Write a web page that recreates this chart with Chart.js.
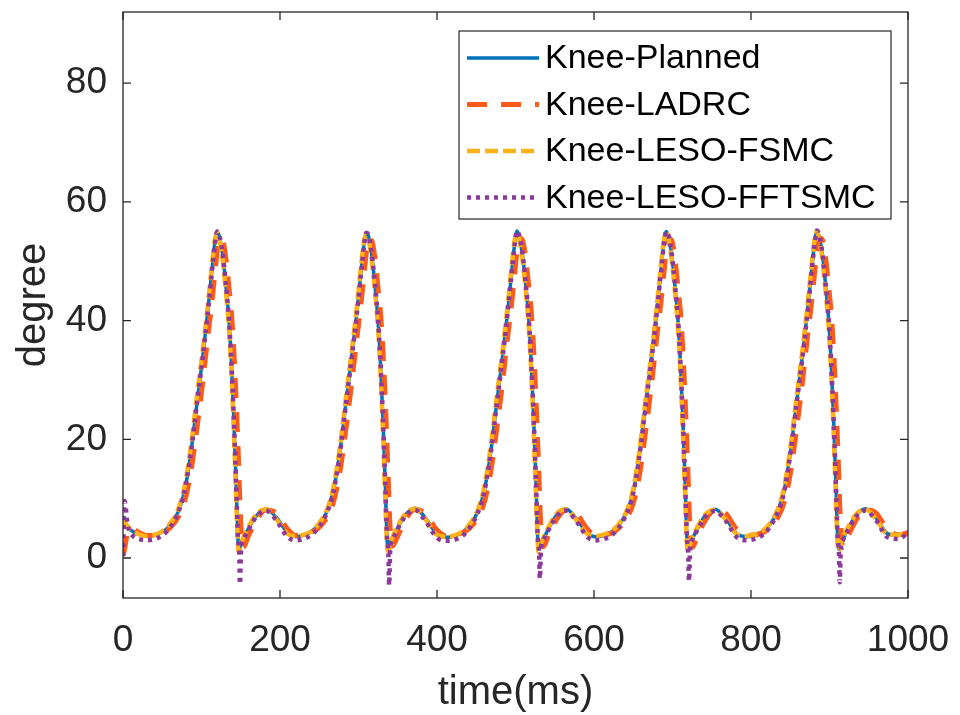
<!DOCTYPE html>
<html><head><meta charset="utf-8">
<script src="https://cdn.jsdelivr.net/npm/chart.js@4.4.0/dist/chart.umd.min.js"></script>
<style>html,body{margin:0;padding:0;background:#fff}#wrap{width:960px;height:715px}</style>
</head><body><div id="wrap"><canvas id="c" width="960" height="715"></canvas></div>
<script>
const xTicks = [0, 200, 400, 600, 800, 1000];
const yTicks = [0, 20, 40, 60, 80];
const seriesNames = ['Knee-Planned', 'Knee-LADRC', 'Knee-LESO-FSMC', 'Knee-LESO-FFTSMC'];

const times = [
  0, 2, 6, 12, 20,
  30, 50, 60, 70, 78, 86, 94, 102, 108, 113, 117, 120, 123, 127, 131, 135, 138, 141, 144, 146.5, 148, 149, 150.5, 153, 160, 170, 182, 195, 210,
  220, 240, 250, 260, 268, 276, 284, 292, 298, 303, 307, 310, 313, 317, 321, 325, 328, 331, 334, 336.5, 338, 339, 340.5, 343, 350, 360, 372, 385, 400,
  412, 432, 442, 452, 460, 468, 476, 484, 490, 495, 499, 502, 505, 509, 513, 517, 520, 523, 526, 528.5, 530, 531, 532.5, 535, 542, 552, 564, 577, 592,
  602, 622, 632, 642, 650, 658, 666, 674, 680, 685, 689, 692, 695, 699, 703, 707, 710, 713, 716, 718.5, 720, 721, 722.5, 725, 732, 742, 754, 767, 782,
  794, 814, 824, 834, 842, 850, 858, 866, 872, 877, 881, 884, 887, 891, 895, 899, 902, 905, 908, 910.5, 912, 913, 914.5, 917, 924, 934, 946, 959, 974,
  988, 1000
];

const planned = [
  6.3, 6.0, 5.2, 4.5, 4.0,
  3.7, 4.4, 5.5, 7.7, 11.0, 17.3, 25.8, 34.4, 41.6, 48.1, 53.1, 55.0, 54.0, 51.1, 46.0, 40.1, 33.2, 24.1, 13.0, 3.1, 1.4, 1.8, 2.3, 3.2, 5.0, 7.1, 8.2, 6.9, 4.2,
  3.6, 4.5, 5.7, 7.9, 11.3, 17.6, 26.1, 34.6, 41.4, 47.9, 52.8, 54.8, 54.1, 50.9, 45.9, 39.8, 32.8, 23.8, 12.8, 2.9, 1.6, 1.9, 2.4, 3.1, 5.1, 7.3, 8.4, 6.8, 4.0,
  3.5, 4.3, 5.6, 7.8, 11.2, 17.4, 26.0, 34.5, 41.5, 48.0, 53.0, 55.1, 54.0, 51.0, 46.1, 40.0, 33.0, 24.0, 13.1, 3.0, 1.5, 1.8, 2.3, 3.0, 4.9, 7.2, 8.3, 6.7, 4.1,
  3.6, 4.4, 5.6, 7.8, 11.1, 17.5, 26.0, 34.4, 41.5, 48.0, 53.0, 55.0, 54.1, 51.0, 46.0, 40.0, 33.1, 24.0, 13.0, 3.0, 1.5, 1.8, 2.3, 3.1, 5.0, 7.2, 8.2, 6.8, 4.1,
  3.6, 4.4, 5.6, 7.9, 11.2, 17.6, 26.1, 34.5, 41.6, 48.1, 53.1, 55.2, 54.1, 51.1, 46.0, 40.0, 33.0, 24.0, 13.0, 3.0, 1.5, 1.8, 2.3, 3.1, 5.0, 7.2, 8.3, 6.8, 4.1,
  3.8, 4.4
];

const ladrc = [
  0.4, 1.5, 4.4, 5.0, 4.3,
  3.8, 4.2, 5.1, 6.8, 9.3, 14.2, 21.7, 30.2, 37.3, 42.8, 48.0, 51.7, 53.8, 53.5, 50.5, 45.5, 41.5, 35.3, 27.0, 18.5, 13.0, 9.0, 4.5, 1.8, 3.8, 6.4, 8.1, 7.6, 4.8,
  3.8, 4.3, 5.2, 6.9, 9.4, 14.3, 21.8, 30.3, 37.2, 42.7, 47.8, 51.5, 53.7, 53.4, 50.4, 45.3, 41.3, 35.1, 26.8, 18.3, 12.8, 8.8, 4.6, 2.0, 3.7, 6.5, 8.2, 7.5, 4.7,
  3.7, 4.2, 5.1, 6.8, 9.3, 14.2, 21.7, 30.2, 37.3, 42.8, 48.0, 51.8, 53.9, 53.5, 50.5, 45.5, 41.5, 35.3, 27.0, 18.5, 13.0, 9.0, 4.5, 1.9, 3.8, 6.4, 8.1, 7.6, 4.8,
  3.8, 4.2, 5.1, 6.8, 9.2, 14.1, 21.6, 30.1, 37.3, 42.8, 48.0, 51.7, 53.8, 53.5, 50.5, 45.5, 41.5, 35.3, 27.0, 18.5, 13.0, 9.0, 4.5, 1.8, 3.8, 6.4, 8.1, 7.6, 4.8,
  3.8, 4.2, 5.1, 6.8, 9.3, 14.2, 21.7, 30.2, 37.4, 42.9, 48.1, 51.8, 53.9, 53.6, 50.6, 45.5, 41.5, 35.3, 27.0, 18.5, 13.0, 9.0, 4.5, 1.8, 3.8, 6.4, 8.1, 7.6, 4.8,
  3.9, 4.2
];

const fsmc = [
  6.5, 6.1, 5.3, 4.6, 4.0,
  3.7, 4.5, 5.8, 8.1, 11.8, 18.3, 27.0, 35.5, 42.5, 49.0, 53.6, 54.8, 53.5, 50.2, 45.0, 38.8, 31.5, 22.0, 10.5, 2.0, 1.0, 1.6, 2.4, 3.4, 5.3, 7.4, 8.2, 6.6, 4.0,
  3.7, 4.5, 5.9, 8.2, 11.9, 18.4, 27.1, 35.6, 42.4, 48.9, 53.4, 54.6, 53.6, 50.1, 44.9, 38.6, 31.3, 21.8, 10.3, 1.9, 1.1, 1.7, 2.5, 3.4, 5.4, 7.5, 8.3, 6.6, 3.9,
  3.6, 4.4, 5.8, 8.1, 11.8, 18.3, 27.0, 35.5, 42.5, 49.0, 53.6, 54.9, 53.5, 50.2, 45.1, 38.8, 31.5, 22.0, 10.6, 2.0, 1.0, 1.6, 2.4, 3.3, 5.2, 7.4, 8.2, 6.5, 4.0,
  3.7, 4.5, 5.8, 8.1, 11.7, 18.3, 27.0, 35.4, 42.5, 49.0, 53.6, 54.8, 53.6, 50.2, 45.0, 38.8, 31.6, 22.0, 10.5, 2.0, 1.0, 1.6, 2.4, 3.4, 5.3, 7.4, 8.1, 6.6, 4.0,
  3.7, 4.5, 5.8, 8.2, 11.8, 18.4, 27.1, 35.5, 42.6, 49.1, 53.7, 55.0, 53.6, 50.3, 45.0, 38.8, 31.5, 22.0, 10.5, 2.0, 1.0, 1.6, 2.4, 3.4, 5.3, 7.4, 8.2, 6.6, 4.0,
  3.9, 4.5
];

const fftsmc = [
  0.3, 9.6, 5.5, 3.8, 3.2,
  3.0, 3.8, 5.2, 7.6, 11.0, 17.3, 25.8, 34.3, 41.3, 47.8, 52.8, 55.0, 54.2, 51.2, 46.2, 40.2, 33.2, 24.2, 13.2, 3.2, 1.2, -4.4, 1.6, 3.0, 4.8, 7.0, 8.0, 6.4, 3.5,
  3.0, 3.9, 5.3, 7.7, 11.1, 17.4, 25.9, 34.4, 41.2, 47.7, 52.6, 54.8, 54.3, 51.1, 46.1, 40.0, 33.0, 24.0, 13.0, 3.1, 1.3, -4.6, 1.7, 3.0, 4.9, 7.1, 8.1, 6.3, 3.4,
  2.9, 3.7, 5.2, 7.6, 11.0, 17.2, 25.8, 34.3, 41.3, 47.8, 52.8, 55.1, 54.2, 51.2, 46.3, 40.2, 33.2, 24.2, 13.3, 3.2, 1.3, -3.5, 1.7, 2.9, 4.7, 7.0, 8.0, 6.3, 3.5,
  3.0, 3.8, 5.2, 7.6, 10.9, 17.3, 25.8, 34.2, 41.3, 47.8, 52.8, 55.0, 54.3, 51.2, 46.2, 40.2, 33.3, 24.2, 13.2, 3.2, 1.2, -3.9, 1.6, 3.0, 4.8, 7.0, 7.9, 6.4, 3.5,
  3.0, 3.8, 5.2, 7.7, 11.0, 17.4, 25.9, 34.3, 41.4, 47.9, 52.9, 55.2, 54.3, 51.3, 46.2, 40.2, 33.2, 24.2, 13.2, 3.2, 1.2, -4.1, 1.6, 3.0, 4.8, 7.0, 8.0, 6.4, 3.5,
  3.2, 4.3
];

const AXC = '#262626';
const FONT = 'Liberation Sans';

function pts(vals) { return times.map((t, i) => ({ x: t, y: vals[i] })); }

const frame = {
  id: 'frame',
  afterDraw(chart) {
    const { ctx, chartArea: a, scales } = chart;
    ctx.save();
    ctx.strokeStyle = AXC;
    ctx.lineWidth = 1.3;
    ctx.setLineDash([]);
    ctx.strokeRect(a.left, a.top, a.right - a.left, a.bottom - a.top);
    const tl = 8;
    ctx.beginPath();
    xTicks.forEach(v => {
      const x = scales.x.getPixelForValue(v);
      ctx.moveTo(x, a.bottom); ctx.lineTo(x, a.bottom - tl);
      ctx.moveTo(x, a.top); ctx.lineTo(x, a.top + tl);
    });
    yTicks.forEach(v => {
      const y = scales.y.getPixelForValue(v);
      ctx.moveTo(a.left, y); ctx.lineTo(a.left + tl, y);
      ctx.moveTo(a.right, y); ctx.lineTo(a.right - tl, y);
    });
    ctx.stroke();

    // legend box
    const bx = 459, by = 31, bw = 432, bh = 188;
    ctx.fillStyle = '#fff';
    ctx.fillRect(bx, by, bw, bh);
    ctx.strokeStyle = AXC;
    ctx.lineWidth = 1.2;
    ctx.strokeRect(bx, by, bw, bh);
    chart.data.datasets.forEach((ds, i) => {
      const y = 58 + i * 46.5;
      ctx.beginPath();
      ctx.setLineDash(ds.borderDash || []);
      ctx.lineWidth = ds.borderWidth;
      ctx.strokeStyle = ds.borderColor;
      ctx.lineCap = 'butt';
      ctx.moveTo(467, y); ctx.lineTo(539, y);
      ctx.stroke();
      ctx.setLineDash([]);
      ctx.fillStyle = '#000';
      ctx.font = '34px "' + FONT + '"';
      ctx.textBaseline = 'middle';
      ctx.textAlign = 'left';
      ctx.fillText(ds.label, 545, y + 1);
    });
    ctx.restore();
  }
};

new Chart(document.getElementById('c'), {
  type: 'line',
  data: {
    datasets: [
      { label: seriesNames[0], data: pts(planned), borderColor: '#0072BD', borderWidth: 3.5, order: 3 },
      { label: seriesNames[1], data: pts(ladrc), borderColor: '#FF5A1A', borderWidth: 5, borderDash: [20, 14], order: 2 },
      { label: seriesNames[2], data: pts(fsmc), borderColor: '#FDB218', borderWidth: 4.5, borderDash: [13, 5], order: 1 },
      { label: seriesNames[3], data: pts(fftsmc), borderColor: '#8B3A9B', borderWidth: 4.5, borderDash: [4, 5], order: 0 }
    ]
  },
  options: {
    responsive: false,
    animation: false,
    devicePixelRatio: 1,
    layout: { padding: { left: 0, right: 52, top: 12, bottom: 0 } },
    elements: { point: { radius: 0, hoverRadius: 0 }, line: { cubicInterpolationMode: 'monotone', fill: false } },
    plugins: { legend: { display: false }, tooltip: { enabled: false } },
    scales: {
      x: {
        type: 'linear', min: 0, max: 1000,
        afterBuildTicks: s => { s.ticks = xTicks.map(v => ({ value: v })); },
        afterFit: s => { s.height = 117; s.paddingLeft = 0; s.paddingRight = 0; },
        grid: { display: false, drawTicks: false },
        border: { display: false },
        ticks: { font: { family: FONT, size: 37 }, color: AXC, padding: 21, maxRotation: 0, autoSkip: false, callback: v => String(v) },
        title: { display: true, text: 'time(ms)', color: AXC, font: { family: FONT, size: 40, lineHeight: 1 }, padding: { top: 0, bottom: 2 } }
      },
      y: {
        type: 'linear', min: -6.74, max: 92,
        afterBuildTicks: s => { s.ticks = yTicks.map(v => ({ value: v })); },
        afterFit: s => { s.width = 123; s.paddingTop = 0; s.paddingBottom = 0; },
        grid: { display: false, drawTicks: false },
        border: { display: false },
        ticks: { font: { family: FONT, size: 37 }, color: AXC, padding: 16, autoSkip: false, callback: v => String(v) },
        title: { display: true, text: 'degree', color: AXC, font: { family: FONT, size: 40, lineHeight: 1 }, padding: { top: 14, bottom: 0 } }
      }
    }
  },
  plugins: [frame]
});
</script>
</body></html>
